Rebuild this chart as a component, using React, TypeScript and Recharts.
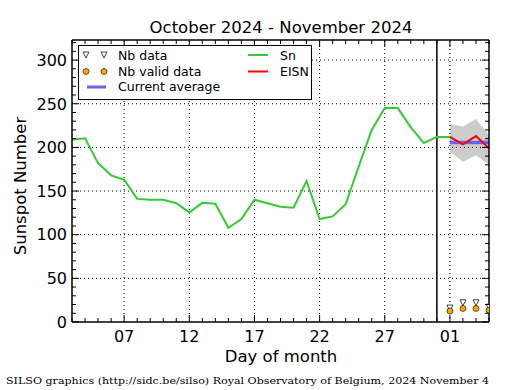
import React from 'react'
import { ComposedChart, Line, Area, Scatter, XAxis, YAxis, ReferenceLine } from 'recharts'

// daily sunspot number, October 3 .. November 1 (day 32 = Nov 1)
const snDays = [3, 4, 5, 6, 7, 8, 9, 10, 11, 12, 13, 14, 15, 16, 17, 18, 19, 20, 21, 22, 23, 24, 25, 26, 27, 28, 29, 30, 31, 32]
const snValues = [209, 210.5, 182, 168, 163, 141, 140, 140, 136, 125.5, 136.5, 135.5, 108, 118, 140, 136, 132, 131, 161.5, 118, 121, 135, 178, 220, 245, 245, 223, 205, 212, 212]

// estimated ISN for the current month
const eisnDays = [32, 33, 34, 35]
const eisnValues = [212, 203.5, 213, 199]
const eisnLow = [195, 183.5, 191, 180]
const eisnHigh = [227, 223.5, 232.5, 214]
const currentAverage = [205.7, 205.7, 205.7, 205.7]
const nbData = [16, 22, 22, 17]
const nbValidData = [12.5, 15.5, 15.5, 13.5]

const yMajorTicks = [0, 50, 100, 150, 200, 250, 300]
const xMajorTicks = [7, 12, 17, 22, 27, 32]
const xTickLabels = ['07', '12', '17', '22', '27', '01']
const monthBoundary = 31

const X_DOMAIN: [number, number] = [3, 35]
const Y_DOMAIN: [number, number] = [0, 323]
const FONT = '"DejaVu Sans", sans-serif'

const dayTicks: number[] = []
for (let d = X_DOMAIN[0]; d <= X_DOMAIN[1]; d++) dayTicks.push(d)
const yTicks: number[] = []
for (let v = 0; v <= 320; v += 10) yTicks.push(v)

const snRows = snDays.map((day, i) => ({ day, sn: snValues[i] }))
const eisnRows = eisnDays.map((day, i) => ({
  day,
  eisn: eisnValues[i],
  band: [eisnLow[i], eisnHigh[i]],
  avg: currentAverage[i],
  nb: nbData[i],
  valid: nbValidData[i],
}))

function LeftTick({ x, y, payload }: any) {
  const v = payload.value
  const major = v % 50 === 0
  return (
    <g>
      <line x1={x} x2={x + (major ? 7 : 4)} y1={y} y2={y} stroke="#000" />
      {major && (
        <text x={x - 5} y={y + 5.8} textAnchor="end" fontSize={16} fontFamily={FONT} fill="#000">
          {v}
        </text>
      )}
    </g>
  )
}

function RightTick({ x, y, payload }: any) {
  const major = payload.value % 50 === 0
  return <line x1={x} x2={x - (major ? 7 : 4)} y1={y} y2={y} stroke="#000" />
}

function BottomTick({ x, y, payload }: any) {
  const idx = xMajorTicks.indexOf(payload.value)
  const major = idx >= 0
  return (
    <g>
      <line x1={x} x2={x} y1={y} y2={y - (major ? 7 : 4)} stroke="#000" />
      {major && (
        <text x={x} y={y + 19.7} textAnchor="middle" fontSize={16} fontFamily={FONT} fill="#000">
          {xTickLabels[idx]}
        </text>
      )}
    </g>
  )
}

function TopTick({ x, y, payload }: any) {
  const major = xMajorTicks.includes(payload.value)
  return <line x1={x} x2={x} y1={y} y2={y + (major ? 7 : 4)} stroke="#000" />
}

function Triangle({ cx, cy }: any) {
  if (cx == null || cy == null) return null
  return (
    <polygon
      points={`${cx - 3},${cy - 3} ${cx + 3},${cy - 3} ${cx},${cy + 3}`}
      fill="#fff"
      stroke="#444"
      strokeWidth={1}
    />
  )
}

function Dot({ cx, cy }: any) {
  if (cx == null || cy == null) return null
  return <circle cx={cx} cy={cy} r={3} fill="#ffa500" stroke="#000" strokeWidth={0.6} />
}

function Overlay() {
  const legendText = { fontSize: 12.5, fontFamily: FONT, fill: '#000' }
  return (
    <svg width={515} height={390} style={{ position: 'absolute', left: 0, top: 0, pointerEvents: 'none' }}>
      <text x={281} y={33} textAnchor="middle" fontSize={16.5} fontFamily={FONT}>
        October 2024 - November 2024
      </text>
      <text transform="translate(26,186) rotate(-90)" textAnchor="middle" fontSize={16.5} fontFamily={FONT}>
        Sunspot Number
      </text>
      <text x={281} y={362} textAnchor="middle" fontSize={16.5} fontFamily={FONT}>
        Day of month
      </text>
      <text x={6} y={384} fontSize={10} fontFamily='"DejaVu Serif", serif' textLength={483} lengthAdjust="spacingAndGlyphs">
        SILSO graphics (http://sidc.be/silso) Royal Observatory of Belgium, 2024 November 4
      </text>

      <rect x={78.5} y={45.5} width={233} height={54} fill="#fff" stroke="#000" strokeWidth={1} />
      <Triangle cx={86} cy={55} />
      <Triangle cx={104} cy={55} />
      <text x={118} y={59.7} {...legendText}>Nb data</text>
      <Dot cx={86} cy={71.5} />
      <Dot cx={104} cy={71.5} />
      <text x={118} y={75.5} {...legendText}>Nb valid data</text>
      <line x1={87} x2={106} y1={87} y2={87} stroke="#6464f5" strokeWidth={3} />
      <text x={118} y={90.7} {...legendText}>Current average</text>
      <line x1={248} x2={268} y1={55} y2={55} stroke="#33cc33" strokeWidth={2} />
      <text x={280} y={59.7} {...legendText}>Sn</text>
      <line x1={248} x2={268} y1={71.5} y2={71.5} stroke="#ff0000" strokeWidth={2} />
      <text x={280} y={75.5} {...legendText}>EISN</text>
    </svg>
  )
}

export default function App() {
  const axisLine = { stroke: '#000', strokeWidth: 1.5 }
  return (
    <div style={{ position: 'absolute', left: 0, top: 0, width: 515, height: 390, background: '#fff' }}>
      <ComposedChart width={515} height={390} margin={{ top: 39, right: 25, bottom: 67, left: 71 }}>
        <XAxis
          dataKey="day"
          type="number"
          domain={X_DOMAIN}
          ticks={dayTicks}
          interval={0}
          height={1}
          tickSize={0}
          tickMargin={0}
          tickLine={false}
          tick={<BottomTick />}
          axisLine={axisLine}
          allowDataOverflow
        />
        <XAxis
          xAxisId="top"
          orientation="top"
          dataKey="day"
          type="number"
          domain={X_DOMAIN}
          ticks={dayTicks}
          interval={0}
          height={1}
          tickSize={0}
          tickMargin={0}
          tickLine={false}
          tick={<TopTick />}
          axisLine={axisLine}
          allowDataOverflow
        />
        <YAxis
          type="number"
          domain={Y_DOMAIN}
          ticks={yTicks}
          interval={0}
          width={1}
          tickSize={0}
          tickMargin={0}
          tickLine={false}
          tick={<LeftTick />}
          axisLine={axisLine}
          allowDataOverflow
        />
        <YAxis
          yAxisId="r"
          orientation="right"
          type="number"
          domain={Y_DOMAIN}
          ticks={yTicks}
          interval={0}
          width={1}
          tickSize={0}
          tickMargin={0}
          tickLine={false}
          tick={<RightTick />}
          axisLine={axisLine}
          allowDataOverflow
        />

        {yMajorTicks.slice(1).map(v => (
          <ReferenceLine key={'gy' + v} y={v} stroke="#000" strokeWidth={1} strokeDasharray="1 3" />
        ))}
        {xMajorTicks.map(v => (
          <ReferenceLine key={'gx' + v} x={v} stroke="#000" strokeWidth={1} strokeDasharray="1 3" />
        ))}

        <Area
          data={eisnRows}
          dataKey="band"
          stroke="none"
          fill="#cccccc"
          fillOpacity={1}
          isAnimationActive={false}
        />
        <ReferenceLine x={monthBoundary} stroke="#000" strokeWidth={1.5} />
        <Line
          data={snRows}
          dataKey="sn"
          stroke="#33cc33"
          strokeWidth={2}
          dot={false}
          isAnimationActive={false}
        />
        <Line
          data={eisnRows}
          dataKey="avg"
          stroke="#6464f5"
          strokeWidth={3.5}
          dot={false}
          isAnimationActive={false}
        />
        <Line
          data={eisnRows}
          dataKey="eisn"
          stroke="#ff0000"
          strokeWidth={2}
          dot={false}
          isAnimationActive={false}
        />
        <Scatter data={eisnRows} dataKey="nb" shape={<Triangle />} isAnimationActive={false} />
        <Scatter data={eisnRows} dataKey="valid" shape={<Dot />} isAnimationActive={false} />
      </ComposedChart>
      <Overlay />
    </div>
  )
}
